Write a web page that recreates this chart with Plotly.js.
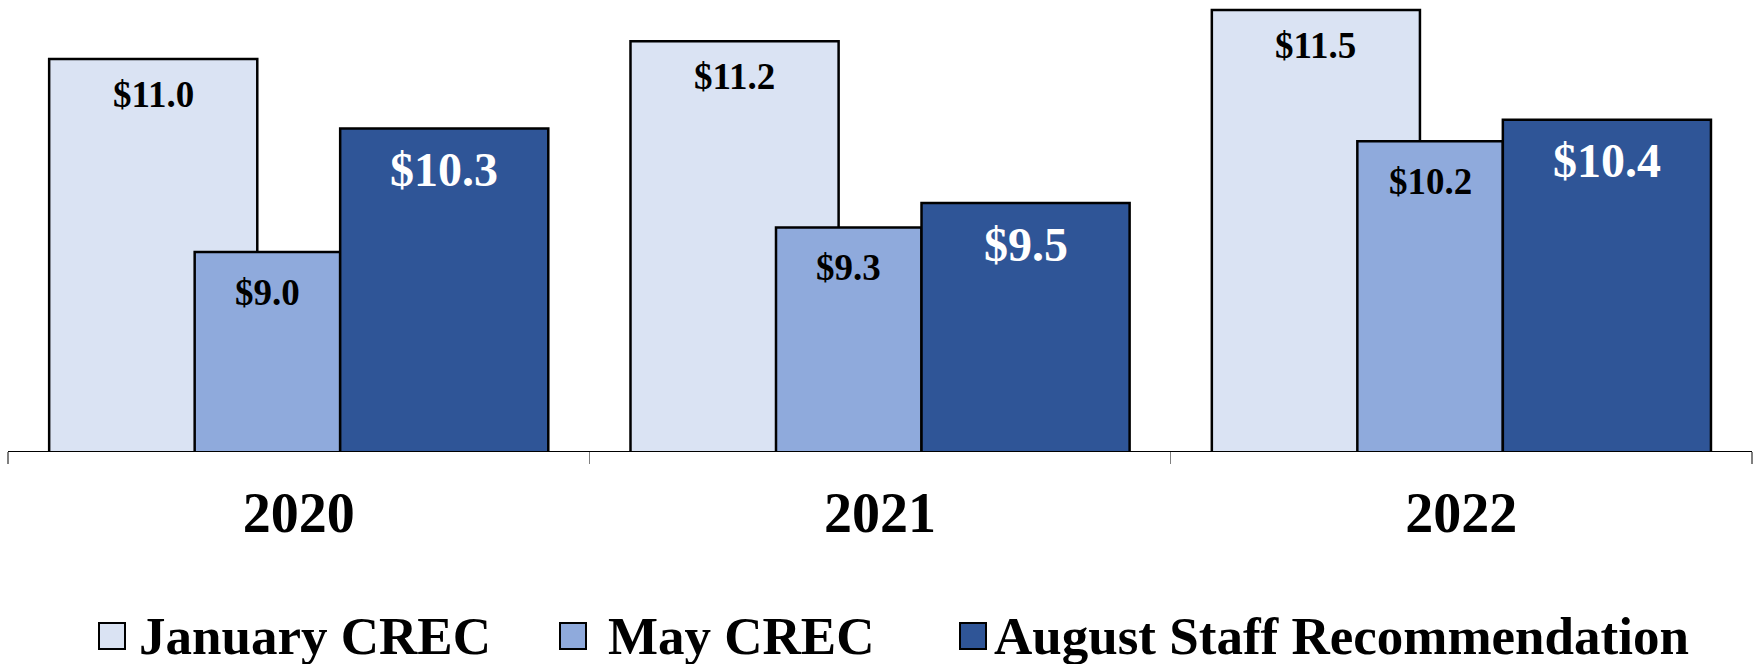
<!DOCTYPE html>
<html>
<head>
<meta charset="utf-8">
<script src="https://cdn.plot.ly/plotly-3.0.1.min.js"></script>
<style>
  html, body { margin: 0; padding: 0; background: #fff; }
  #chart { width: 1759px; height: 664px; }
</style>
</head>
<body>
<div id="chart"></div>
<script>
// --- data ---
const years = ['2020', '2021', '2022'];
const seriesNames = ['January CREC', 'May CREC', 'August Staff Recommendation'];
const janCrec = [11.0, 11.18, 11.5];
const mayCrec = [9.03, 9.28, 10.16];
const augStaff = [10.29, 9.53, 10.38];

// --- look ---
const FONT = '"Times New Roman", "Liberation Serif", serif';
const colors = ['#dae3f3', '#8faadc', '#2f5597'];
const W = 1759, H = 664;
const M = { l: 8, r: 7, t: 0, b: 213 };
const pw = W - M.l - M.r, ph = H - M.t - M.b;

// bar geometry (fraction of one category), Excel style overlap
const barW = 0.358, step = 0.2503;
const offsets = [-0.4292, -0.4292 + step, -0.4292 + 2 * step];
const widths = [barW, step, barW];   // middle bar only shows up to the next one
const labelSize = [37, 37, 48];
const labelColor = ['#000', '#000', '#fff'];
const labelDrop = [-35, -40, -41];

const allValues = [janCrec, mayCrec, augStaff];

// pixel -> paper helpers for the legend
const px2x = px => (px - M.l) / pw;
const py2y = py => (ph - (py - M.t)) / ph;

const traces = allValues.map((vals, s) => ({
    type: 'bar',
    name: seriesNames[s],
    x: years,
    y: vals,
    offset: offsets[s],
    width: widths[s],
    marker: { color: colors[s], line: { color: '#000', width: 2.5 } },
    showlegend: false,
    hoverinfo: 'skip'
}));

const annotations = [];
allValues.forEach((vals, s) => {
    vals.forEach((v, i) => {
        annotations.push({
            x: i + offsets[s] + widths[s] / 2,
            y: v,
            xref: 'x', yref: 'y',
            text: '$' + v.toFixed(1),
            showarrow: false,
            yanchor: 'middle',
            yshift: labelDrop[s],
            font: { family: FONT, size: labelSize[s], color: labelColor[s], weight: 'bold' }
        });
    });
});

// custom legend: big outlined squares like the original
const legendBox = [99, 560, 960];
const legendText = [137, 606, 992];
const shapes = [];
seriesNames.forEach((name, s) => {
    shapes.push({
        type: 'rect', xref: 'paper', yref: 'paper',
        x0: px2x(legendBox[s]), x1: px2x(legendBox[s] + 26),
        y0: py2y(649), y1: py2y(623),
        fillcolor: colors[s],
        line: { color: '#000', width: 2 }
    });
    annotations.push({
        x: px2x(legendText[s]), y: py2y(636),
        xref: 'paper', yref: 'paper',
        xanchor: 'left', yanchor: 'middle',
        text: name, showarrow: false,
        font: { family: FONT, size: 53, color: '#000', weight: 'bold' }
    });
});

const layout = {
    width: W, height: H,
    margin: M,
    paper_bgcolor: '#fff',
    plot_bgcolor: '#fff',
    barmode: 'overlay',
    showlegend: false,
    xaxis: {
        type: 'category',
        range: [-0.5, 2.5],
        tickson: 'boundaries',
        ticks: 'outside',
        ticklen: 12,
        tickcolor: '#808080',
        tickwidth: 1.5,
        ticklabelstandoff: 13,
        showline: true,
        linecolor: '#000',
        linewidth: 1,
        showgrid: false,
        zeroline: false,
        tickfont: { family: FONT, size: 56, color: '#000', weight: 'bold' },
        fixedrange: true
    },
    yaxis: {
        range: [7, 7 + ph / 98],
        visible: false,
        showgrid: false,
        zeroline: false,
        fixedrange: true
    },
    shapes: shapes,
    annotations: annotations
};

Plotly.newPlot('chart', traces, layout, { displayModeBar: false, staticPlot: true });
</script>
</body>
</html>
